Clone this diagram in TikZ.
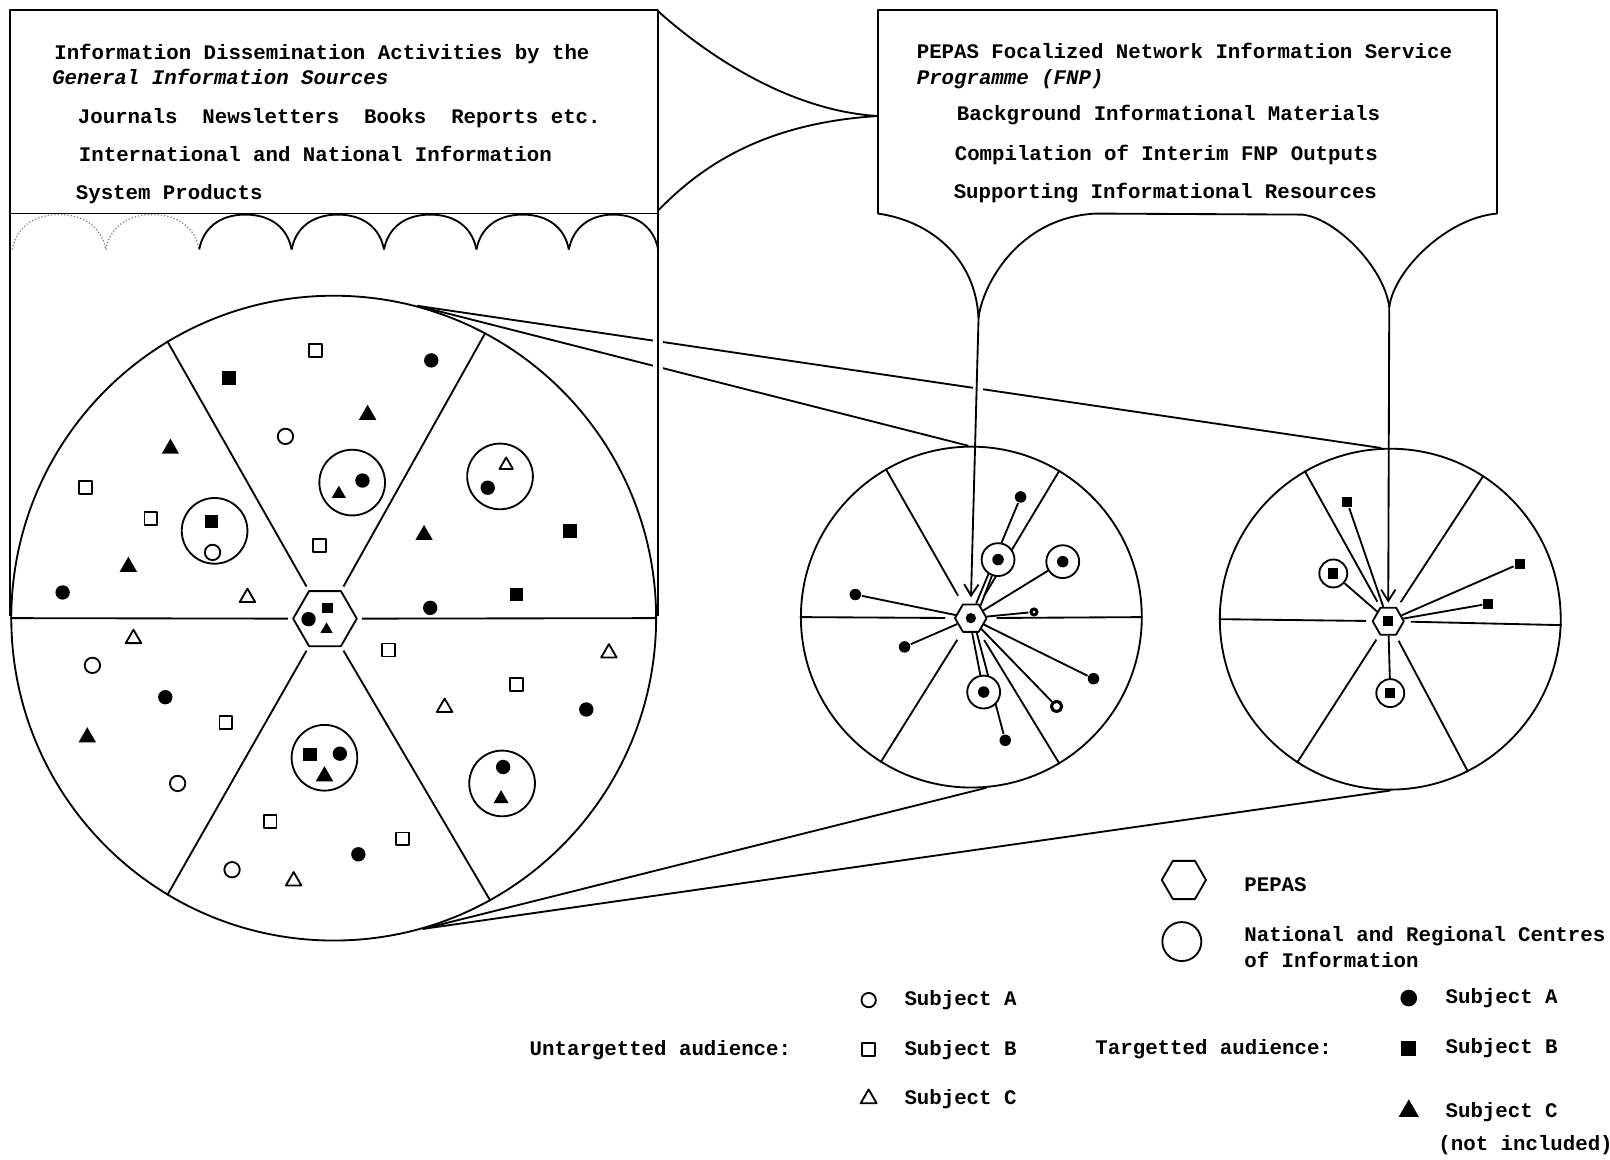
\documentclass[tikz,border=0pt]{standalone}
\usepackage{fontspec}
\newfontfamily\tw{Liberation Mono}
\usetikzlibrary{shapes.geometric,arrows.meta,calc,backgrounds}
\begin{document}
\begin{tikzpicture}[x=0.5pt,y=-0.5pt,line width=0.9pt,line join=round,
 txt/.style={font=\tw\bfseries\fontsize{10.1}{12}\selectfont, inner sep=0pt, anchor=base west},
 itx/.style={txt, font=\tw\bfseries\itshape\fontsize{10.1}{12}\selectfont},
 fdot/.style={circle, fill, inner sep=0pt, minimum size=7pt},
 sdot/.style={circle, fill, inner sep=0pt, minimum size=5.6pt},
 odot/.style={circle, draw, inner sep=0pt, minimum size=7.5pt},
 osq/.style={rectangle, draw, inner sep=0pt, minimum size=6.3pt},
 fsq/.style={rectangle, fill, inner sep=0pt, minimum size=6.5pt},
 ssq/.style={rectangle, fill, inner sep=0pt, minimum size=5pt},
 ftri/.style={regular polygon, regular polygon sides=3, fill, inner sep=0pt, minimum size=9.8pt},
 otri/.style={regular polygon, regular polygon sides=3, draw, inner sep=0pt, minimum size=8.7pt},
 hexa/.style={regular polygon, regular polygon sides=6, draw, fill=white, inner sep=0pt},
 ring/.style={circle, draw, fill=white, inner sep=0pt},
 big/.style={circle, draw, inner sep=0pt},
 arr/.style={-{Straight Barb[length=5.5pt,width=7pt]}},
 faint/.style={densely dotted, line width=0.6pt, gray},
 ln/.style={line width=0.9pt, line join=round}
]
\useasboundingbox (0,0) rectangle (1568,1129);

% ---------- coordinates ----------
\coordinate (jn) at (855,113);
\coordinate (rbl) at (855,208);
\coordinate (rbr) at (1458,208);
\coordinate (cuspL) at (953,310);
\coordinate (cuspR) at (1353,299);

% ---------- white gaps for crossings ----------
\draw[white, line width=5pt] (641,300) -- (641,385);
\draw[white, line width=5pt] (952.5,360) -- (952.5,386);

% ---------- left box ----------
\draw (10,600) -- (10,10) -- (641,10) -- (641,600);
\draw (10,208) -- (641,208);
\foreach \a/\b in {12/103, 103/194}
  \draw[faint] (\a,243) .. controls (\a+4,222) and (\a+20,209) .. ({(\a+\b)/2},209) .. controls (\b-20,209) and (\b-4,222) .. (\b,243);
\foreach \a/\b in {194/284, 284/374, 374/464, 464/554, 554/641}
  \draw (\a,243) .. controls (\a+4,222) and (\a+20,209) .. ({(\a+\b)/2},209) .. controls (\b-20,209) and (\b-4,222) .. (\b,243);

% ---------- funnel ----------
\draw (641,11) .. controls (690,55) and (770,108) .. (jn);
\draw (641,205) .. controls (680,165) and (740,120) .. (jn);

% ---------- right box ----------
\draw (rbl) -- (855,10) -- (1458,10) -- (rbr);
\draw (rbl) .. controls (905,215) and (950,250) .. (cuspL);
\draw (cuspL) .. controls (956,280) and (990,212) .. (1067,208) -- (1268,209) .. controls (1300,212) and (1348,260) .. (cuspR);
\draw (rbr) .. controls (1410,212) and (1358,262) .. (cuspR);

% ---------- texts ----------
\node[txt] (L1) at (52,58) {Information Dissemination Activities by the};
\node[itx] (L2) at (50,82) {General Information Sources};
\node[txt] (L3) at (75,120) {Journals\ \ Newsletters\ \ Books\ \ Reports etc.};
\node[txt] (L4) at (76,157) {International and National Information};
\node[txt] (L5) at (73,194) {System Products};
\node[txt] (R1) at (892,57) {PEPAS Focalized Network Information Service};
\node[itx] (R2) at (892,82) {Programme (FNP)};
\node[txt] (R3) at (931,117) {Background Informational Materials};
\node[txt] (R4) at (929,156) {Compilation of Interim FNP Outputs};
\node[txt] (R5) at (928,193) {Supporting Informational Resources};

% ---------- big circles ----------
\node[big, minimum size=314pt] (C1) at (325,602) {};
\node[big, minimum size=166pt] (C2) at (946,601) {};
\node[big, minimum size=166pt] (C3) at (1354,603) {};

% ---------- hexagons ----------
\node[hexa, minimum size=31pt] (H1) at (316.5,602.5) {};
\node[fdot] (h1a) at (300.5,603) {};
\node[ssq] (h1b) at (319,592) {};
\node[ftri, minimum size=6.9pt] (h1c) at (318,613) {};
\node[hexa, minimum size=15.4pt] (H2) at (945.5,602) {};
\node[sdot, minimum size=5pt] (h2a) at (945.5,602) {};
\node[hexa, minimum size=15.2pt] (H3) at (1352,605) {};
\node[ssq] (h3a) at (1352,605) {};

% ---------- big circle: centres ----------
\node[ring, minimum size=32pt] (S1) at (209,517) {};
\node[fsq] (S1a) at (206,508) {};
\node[odot] (S1b) at (207,538) {};
\node[ring, minimum size=32pt] (S2) at (343,470) {};
\node[fdot] (S2a) at (353,468) {};
\node[ftri, minimum size=8pt] (S2b) at (330,481) {};
\node[ring, minimum size=32pt] (S3) at (487,464) {};
\node[otri, minimum size=7.5pt] (S3a) at (493,453) {};
\node[fdot] (S3b) at (475,475) {};
\node[ring, minimum size=32pt] (S4) at (316,738) {};
\node[fsq] (S4a) at (302,735) {};
\node[fdot] (S4b) at (331,734) {};
\node[ftri] (S4c) at (316,756) {};
\node[ring, minimum size=32pt] (S5) at (489,763) {};
\node[fdot] (S5a) at (490,747) {};
\node[ftri, minimum size=8.5pt] (S5b) at (488,778) {};

% ---------- big circle: audience ----------
\node[osq] (q1) at (307,341) {};
\node[osq] (q2) at (83,475) {};
\node[osq] (q3) at (147,505) {};
\node[osq] (q4) at (311,531) {};
\node[osq] (q5) at (378,633) {};
\node[osq] (q6) at (503,667) {};
\node[osq] (q7) at (220,704) {};
\node[osq] (q8) at (263,800) {};
\node[osq] (q9) at (392,817) {};
\node[fdot] (d1) at (420,351) {};
\node[fdot] (d2) at (61,577) {};
\node[fdot] (d3) at (419,592) {};
\node[fdot] (d4) at (161,679) {};
\node[fdot] (d5) at (571,691) {};
\node[fdot] (d6) at (349,832) {};
\node[fsq] (s1) at (223,368) {};
\node[fsq] (s2) at (555,517) {};
\node[fsq] (s3) at (503,579) {};
\node[odot] (o1) at (278,425) {};
\node[odot] (o2) at (90,648) {};
\node[odot] (o3) at (173,763) {};
\node[odot] (o4) at (226,847) {};
\node[ftri] (t1) at (358,404) {};
\node[ftri] (t2) at (166,437) {};
\node[ftri] (t3) at (125,552) {};
\node[ftri] (t4) at (413,521) {};
\node[ftri] (t5) at (85,718) {};
\node[otri] (u1) at (241,582) {};
\node[otri] (u2) at (130,622) {};
\node[otri] (u3) at (593,636) {};
\node[otri] (u4) at (433,689) {};
\node[otri] (u5) at (286,858) {};

% ---------- circle 2 ----------
\node[sdot] (a1) at (994,484) {};
\node[sdot] (a2) at (833,579) {};
\node[sdot] (a3) at (881,630) {};
\node[sdot] (a4) at (1065,661) {};
\node[sdot] (a5) at (979,721) {};
\node[ring, minimum size=16pt] (ca1) at (972,545) {};
\node[sdot] (ca1d) at (972,545) {};
\node[ring, minimum size=16pt] (ca2) at (1035,547) {};
\node[sdot] (ca2d) at (1035,547) {};
\node[ring, minimum size=16pt] (ca3) at (958,674) {};
\node[sdot] (ca3d) at (958,674) {};
\node[sdot, minimum size=4.5pt] (sd1) at (1007,596) {};
\node[circle, fill=white, inner sep=0pt, minimum size=1.3pt] (sd1w) at (1007,596) {};
\node[ring, line width=1.5pt, minimum size=5pt] (sd2) at (1029,688) {};

% ---------- circle 3 ----------
\node[ssq] (b1) at (1312,489) {};
\node[ssq] (b2) at (1480,549) {};
\node[ssq] (b3) at (1449.5,588) {};
\node[ring, minimum size=13.6pt] (cb1) at (1298.5,558.5) {};
\node[ssq] (cb1s) at (1298.5,558.5) {};
\node[ring, minimum size=13.6pt] (cb2) at (1354,675) {};
\node[ssq] (cb2s) at (1354,675) {};

% ---------- stems ----------
\draw[arr, shorten >=3pt] (cuspL) -- (H2.north);
\draw[arr, shorten >=2pt] (cuspR) -- (H3.north);

% ---------- legend ----------
\node[hexa, minimum size=21.5pt] (LH) at (1153,857) {};
\node[big, minimum size=19pt] (LC) at (1151,917) {};
\node[txt] (lgP) at (1211,868) {PEPAS};
\node[txt] (lgN1) at (1211,917) {National and Regional Centres};
\node[txt] (lgN2) at (1211,942) {of Information};
\node[odot, minimum size=7pt] (UA) at (846,974) {};
\node[osq, minimum size=6.3pt] (UB) at (846,1022) {};
\node[otri, minimum size=9pt] (UC) at (846,1070) {};
\node[txt] (lgU) at (515,1028) {Untargetted audience:};
\node[txt] (lgUA) at (880,979) {Subject A};
\node[txt] (lgUB) at (880,1028) {Subject B};
\node[txt] (lgUC) at (880,1076) {Subject C};
\node[fdot, minimum size=8.1pt] (TA) at (1372,972) {};
\node[fsq, minimum size=7.3pt] (TB) at (1372,1021) {};
\node[ftri, minimum size=11.3pt] (TC) at (1372,1082) {};
\node[txt] (lgT) at (1066,1027) {Targetted audience:};
\node[txt] (lgTA) at (1407,977) {Subject A};
\node[txt] (lgTB) at (1407,1026) {Subject B};
\node[txt] (lgTC) at (1407,1088) {Subject C};
\node[txt] (lgTN) at (1400,1120) {(not included)};

% ---------- background: spokes and connectors ----------
\begin{scope}[on background layer={ln}]
  \foreach \h/\c in {0/0, 60/62, 120/121, 180/180, 240/239, 300/299}
    \draw[ln, shorten <=2pt] (H1.\h) -- (C1.\c);
  \foreach \c in {0, 59, 120, 180, 238, 301}
    \draw[ln] ($(H2)!0.15!(C2.\c)$) -- (C2.\c);
  \foreach \c in {358, 57, 120, 180, 237, 297}
    \draw[ln] ($(H3)!0.13!(C3.\c)$) -- (C3.\c);
  \draw[ln] (C1.75) -- (C3.93);
  \draw[ln] (C1.75) -- (C2.91);
  \draw[ln] (C1.-74) -- (C2.-85);
  \draw[ln] (C1.-74) -- (C3.-90);
  % circle 2 connectors
  \draw[ln] (a1) -- (H2.70);
  \draw[ln] (ca1) -- (H2.52);
  \draw[ln] (ca2) -- (H2);
  \draw[ln] (a2) -- (H2);
  \draw[ln] (a3) -- (H2);
  \draw[ln] (sd1) -- (H2);
  \draw[ln] (a4) -- (H2);
  \draw[ln] (sd2) -- (H2);
  \draw[ln] (a5) -- (H2.-68);
  \draw[ln] (ca3) -- (H2.-85);
  % circle 3 connectors
  \draw[ln] (b1) -- (H3);
  \draw[ln] (b2) -- (H3);
  \draw[ln] (b3) -- (H3);
  \draw[ln] (cb1) -- (H3);
  \draw[ln] (cb2) -- (H3);
\end{scope}
\end{tikzpicture}
\end{document}
